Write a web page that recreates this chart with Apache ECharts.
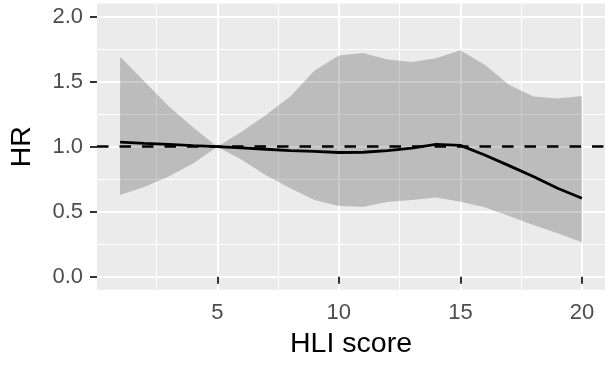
<!DOCTYPE html>
<html>
<head>
<meta charset="utf-8">
<script src="https://cdn.jsdelivr.net/npm/echarts@6/dist/echarts.min.js"></script>
<style>
  html, body { margin: 0; padding: 0; background: #fff; }
  #chart { width: 605px; height: 366px; }
</style>
</head>
<body>
<div id="chart"></div>
<script>
// HLI score vs hazard ratio, with confidence band
const hliScore = [1, 2, 3, 4, 5, 6, 7, 8, 9, 10, 11, 12, 13, 14, 15, 16, 17, 18, 19, 20];
const hr = [1.034, 1.025, 1.017, 1.008, 1.0, 0.99, 0.98, 0.97, 0.963, 0.955,
            0.957, 0.97, 0.988, 1.018, 1.01, 0.936, 0.854, 0.77, 0.68, 0.603];
const upper = [1.69, 1.50, 1.31, 1.15, 1.0, 1.115, 1.244, 1.385, 1.585, 1.70,
               1.72, 1.67, 1.65, 1.68, 1.74, 1.63, 1.475, 1.385, 1.37, 1.39];
const lower = [0.628, 0.69, 0.77, 0.87, 1.0, 0.90, 0.78, 0.68, 0.59, 0.544,
               0.538, 0.575, 0.59, 0.61, 0.577, 0.534, 0.467, 0.398, 0.334, 0.265];
const refLine = 1;

const xTicks = [5, 10, 15, 20];
const xMinor = [2.5, 7.5, 12.5, 17.5];
const yTicks = [0, 0.5, 1, 1.5, 2];
const yMinor = [0.25, 0.75, 1.25, 1.75];

const font = '"Liberation Sans", Arial, sans-serif';
let myChart = echarts.init(document.getElementById('chart'));

let hrData = hliScore.map((x, i) => [x, hr[i]]);

let option = {
    animation: false,
    grid: {
        left: 97,
        top: 3.5,
        width: 513,
        height: 286.3,
        show: true,
        backgroundColor: '#EBEBEB',
        borderWidth: 0
    },
    xAxis: [
        {
            type: 'value',
            min: 0.05,
            max: 20.95,
            name: 'HLI score',
            nameLocation: 'middle',
            nameGap: 40,
            nameTextStyle: { color: '#000', fontSize: 28.5, fontFamily: font },
            axisLine: { show: false },
            axisTick: { show: true, length: 7, customValues: xTicks, lineStyle: { color: '#333', width: 2 } },
            axisLabel: { customValues: xTicks, margin: 12, color: '#4D4D4D', fontSize: 22, fontFamily: font },
            splitLine: { show: true, lineStyle: { color: '#fff', width: 2 } }
        },
        {
            type: 'value',
            min: 0.05,
            max: 20.95,
            position: 'bottom',
            axisLine: { show: false },
            axisTick: { show: false, customValues: xMinor },
            axisLabel: { show: false, customValues: xMinor },
            splitLine: { show: true, lineStyle: { color: '#fff', width: 1 } }
        }
    ],
    yAxis: [
        {
            type: 'value',
            min: -0.1,
            max: 2.1,
            name: 'HR',
            nameLocation: 'middle',
            nameRotate: 90,
            nameGap: 60,
            nameTextStyle: { color: '#000', fontSize: 28.5, fontFamily: font },
            axisLine: { show: false },
            axisTick: { show: true, length: 7, customValues: yTicks, lineStyle: { color: '#333', width: 2 } },
            axisLabel: {
                customValues: yTicks, margin: 14, color: '#4D4D4D', fontSize: 22, fontFamily: font,
                formatter: function (value) { return value.toFixed(1) }
            },
            splitLine: { show: true, lineStyle: { color: '#fff', width: 2 } }
        },
        {
            type: 'value',
            min: -0.1,
            max: 2.1,
            position: 'left',
            axisLine: { show: false },
            axisTick: { show: false, customValues: yMinor },
            axisLabel: { show: false, customValues: yMinor },
            splitLine: { show: true, lineStyle: { color: '#fff', width: 1 } }
        }
    ],
    series: [
        {
            // confidence band
            type: 'custom',
            data: [[hliScore[0], upper[0]]],
            clip: true,
            silent: true,
            renderItem: function (params, api) {
                let pts = [];
                for (let i = 0; i < hliScore.length; i++) {
                    pts.push(api.coord([hliScore[i], upper[i]]));
                }
                for (let i = hliScore.length - 1; i >= 0; i--) {
                    pts.push(api.coord([hliScore[i], lower[i]]));
                }
                return {
                    type: 'polygon',
                    shape: { points: pts },
                    style: { fill: 'rgba(0,0,0,0.2)', stroke: null }
                };
            },
            z: 2
        },
        {
            type: 'line',
            data: hrData,
            showSymbol: false,
            symbol: 'none',
            lineStyle: { color: '#000', width: 2.8 },
            z: 3,
            markLine: {
                silent: true,
                symbol: 'none',
                label: { show: false },
                lineStyle: { color: '#000', width: 2.6, type: [11.5, 11] },
                data: [{ yAxis: refLine }]
            }
        }
    ]
};

myChart.setOption(option);
window.addEventListener('resize', function () {
    myChart.resize()
});
</script>
</body>
</html>
